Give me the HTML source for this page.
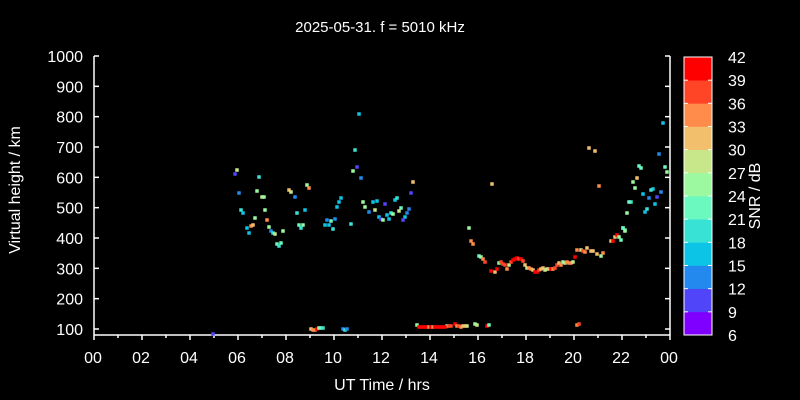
<!DOCTYPE html>
<html><head><meta charset="utf-8"><style>
html,body{margin:0;padding:0;background:#000;}
svg{display:block;}
text{font-family:"Liberation Sans",sans-serif;fill:#fff;}
</style></head><body>
<svg id="s" width="800" height="400" viewBox="0 0 800 400" xmlns="http://www.w3.org/2000/svg">
<rect width="800" height="400" fill="#000"/>
<text x="380" y="32" font-size="15" text-anchor="middle">2025-05-31. f = 5010 kHz</text>
<g id="ax" stroke="#fff" stroke-width="1.5" fill="none">
<line x1="94" y1="56" x2="94" y2="335"/>
<line x1="670" y1="56" x2="670" y2="335"/>
<line x1="94" y1="335" x2="670" y2="335"/>
</g>
<g id="ylab" font-size="16" text-anchor="end"></g>
<g id="xlab" font-size="16" text-anchor="middle"></g>
<text transform="translate(20,190) rotate(-90)" font-size="16" text-anchor="middle">Virtual height / km</text>
<text x="382" y="390" font-size="16" text-anchor="middle">UT Time / hrs</text>
<g id="cb"></g>
<text transform="translate(760,196) rotate(-90)" font-size="16" text-anchor="middle">SNR / dB</text>
<g id="pts"></g>
</svg>
<script>
(function(){
var NS="http://www.w3.org/2000/svg";
function el(t,a,p,txt){var e=document.createElementNS(NS,t);for(var k in a)e.setAttribute(k,a[k]);if(txt!==undefined)e.textContent=txt;p.appendChild(e);return e;}
var ax=document.getElementById('ax'),yl=document.getElementById('ylab'),xl=document.getElementById('xlab');
for(var v=100;v<=1000;v+=100){var y=329-(v-100)*0.30333;
el('line',{x1:94,y1:y,x2:99,y2:y},ax);el('line',{x1:670,y1:y,x2:665,y2:y},ax);
el('text',{x:83,y:y+6},yl,String(v));}
for(var h=0;h<=24;h++){var x=94+h*24;var maj=h%2==0;
el('line',{x1:x,y1:335,x2:x,y2:maj?340:338},ax);
if(maj)el('text',{x:x-1,y:363},xl,(h%24<10?'0':'')+(h%24));}
var cols=['#8000ff','#5045f8','#2389ee','#0cc4e6','#38e3d5','#6cf9c0','#9cf9a0','#c8e68a','#f2c06c','#ff8c4b','#ff4526','#ff0000'];
var cb=document.getElementById('cb');var cbTop=57,cbBot=335,sh=(cbBot-cbTop)/12;
for(var i=0;i<12;i++){el('rect',{x:684,y:cbBot-(i+1)*sh,width:28,height:sh+0.3,fill:cols[i]},cb);}
el('rect',{x:684,y:cbTop,width:28,height:cbBot-cbTop,fill:'none',stroke:'#fff','stroke-width':1},cb);
for(var i=0;i<=12;i++){var y=cbBot-i*sh;
if(i>0&&i<12){el('line',{x1:684,y1:y,x2:688,y2:y,stroke:'#fff'},cb);el('line',{x1:712,y1:y,x2:708,y2:y,stroke:'#fff'},cb);}
el('text',{x:728,y:y+6,'font-size':16},cb,String(6+3*i));}
var C={P:'#8000ff',I:'#5045f8',B:'#2389ee',C:'#0cc4e6',T:'#38e3d5',M:'#6cf9c0',G:'#9cf9a0',L:'#c8e68a',Y:'#f2c06c',o:'#ff8c4b',O:'#ff4526',R:'#ff0000'};
var d="213,334,I 237,170,L 235,174,I 259,177,T 239,193,B 257,191,G 262,197,L 264,197,G 265,210,G 241,210,T 243,213,C 255,218,G 267,220,o 251,226,o 253,225,Y 247,228,C 269,227,G 249,233,C 271,231,B 273,233,T 275,234,L 283,231,G 277,244,M 279,246,T 281,243,M 289,190,Y 291,192,L 307,185,G 309,188,o 295,197,B 297,213,T 305,210,C 299,225,M 303,225,G 301,228,T 357,167,I 353,171,G 361,178,B 341,198,C 339,202,C 337,207,C 327,220,B 331,221,M 335,219,B 325,225,C 329,225,C 333,229,T 351,224,T 363,202,G 365,207,G 369,212,B 373,202,C 377,201,C 385,204,I 375,210,L 379,217,C 381,219,I 383,220,G 387,215,C 389,219,C 391,213,T 393,214,G 395,200,C 397,198,T 401,208,M 399,211,L 405,217,C 403,220,I 407,213,B 409,209,B 411,193,I 413,182,Y 359,114,C 355,150,T "+
"469,228,G 471,241,o 473,244,o 479,256,M 481,257,G 483,259,o 485,262,O 491,271,R 495,272,Y 497,269,R 499,263,G 501,262,O 503,264,O 505,265,O 507,269,o 509,265,L 511,262,O 513,260,R 515,259,R 517,258,R 519,259,O 521,259,R 523,261,O 525,265,Y 527,268,L 529,268,o 531,269,o 533,270,Y 535,272,R 537,272,R 539,270,O 541,269,Y 543,268,Y 545,270,L 547,269,L 549,269,Y 551,269,R 553,269,o 555,268,O 557,265,O 559,263,Y 561,265,o 563,262,G 565,263,L 567,262,o 569,263,o 571,263,o 573,262,L 575,257,R 577,250,o 581,250,L 583,251,O 585,252,o 587,248,Y 591,251,Y 593,251,Y 597,254,Y 601,256,G 603,253,o 611,241,Y 613,241,R 615,237,Y 617,235,R 619,237,G 621,240,M 623,228,M 625,230,T 492,184,Y "+
"663,123,C 589,148,Y 595,151,Y 659,154,B 639,166,M 641,168,M 665,167,M 667,172,G 633,182,G 637,178,Y 599,186,o 635,188,G 653,189,C 651,190,T 661,192,B 643,194,C 631,202,T 629,202,M 649,198,B 657,197,I 655,204,C 647,209,T 645,212,C 627,213,G 623,228,M 625,231,G "+
"311,329,Y 313,330,o 315,330,o 317,329,R 319,328,G 321,328,M 323,328,T 343,329,B 345,330,T 347,329,B 417,325,G 447,326,L 449,326,O 451,326,O 455,324,R 457,326,o 459,326,O 461,327,o 463,326,Y 465,326,Y 467,326,L 475,324,G 477,325,L 487,326,R 489,325,M 577,325,o 579,324,O";
for(var x=419;x<=445;x+=2){d+=" "+x+",327,"+((x==429||x==433)?"o":"R");}
var pts=document.getElementById('pts');
d.trim().split(/\s+/).forEach(function(s){var p=s.split(',');el('rect',{x:+p[0]-1.75,y:+p[1]-1.75,width:3.5,height:3.5,fill:C[p[2]]},pts);});
})();
</script>
</body></html>
